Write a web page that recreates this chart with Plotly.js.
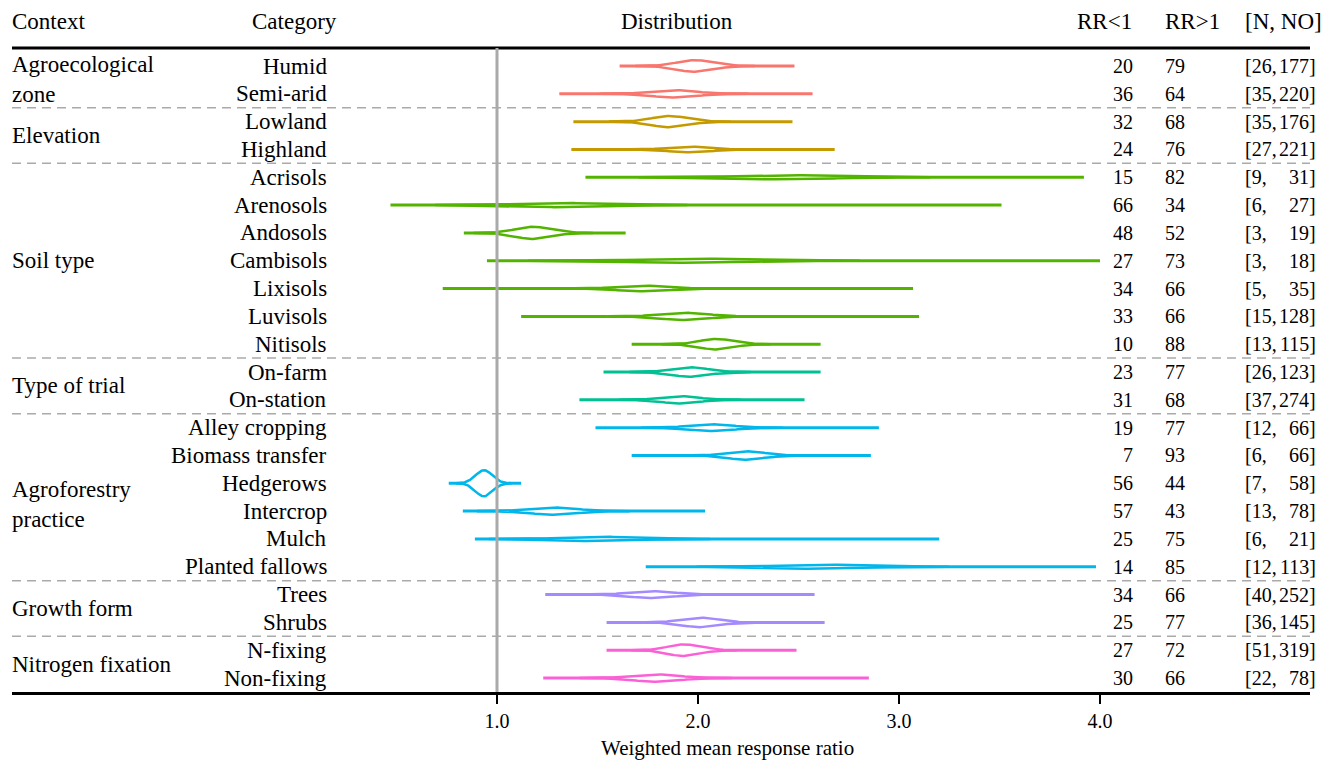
<!DOCTYPE html>
<html><head><meta charset="utf-8">
<script src="https://cdn.plot.ly/plotly-3.0.1.min.js"></script>
<style>html,body{margin:0;padding:0;background:#fff}#chart{width:1338px;height:766px}</style>
</head><body><div id="chart"></div>
<script>
// ---------------- data ----------------
const categories = ["Humid","Semi-arid","Lowland","Highland","Acrisols","Arenosols","Andosols","Cambisols","Lixisols","Luvisols","Nitisols","On-farm","On-station","Alley cropping","Biomass transfer","Hedgerows","Intercrop","Mulch","Planted fallows","Trees","Shrubs","N-fixing","Non-fixing"];
const contexts = ["Agroecological<br>zone","Elevation","Soil type","Type of trial","Agroforestry<br>practice","Growth form","Nitrogen fixation"];
const contextSizes = [2,2,7,2,6,2,2];
const contextColors = ["#F8766D","#C49A00","#53B400","#00C094","#00B6EB","#A58AFF","#FB61D7"];
const rangeLow  = [1.61,1.31,1.38,1.37,1.44,0.47,0.835,0.95,0.73,1.12,1.67,1.53,1.41,1.49,1.67,0.76,0.83,0.89,1.74,1.24,1.545,1.545,1.23];
const rangeHigh = [2.48,2.57,2.47,2.68,3.92,3.51,1.64,4.00,3.07,3.10,2.61,2.61,2.53,2.90,2.86,1.12,2.035,3.20,3.98,2.58,2.63,2.49,2.85];
const meanRR    = [1.985,1.88,1.86,1.96,2.43,1.32,1.18,1.98,1.73,1.93,2.09,1.96,1.91,2.07,2.24,0.935,1.28,1.51,2.62,1.77,2.01,1.93,1.79];
const spreadRR  = [0.09,0.112,0.092,0.107,0.22,0.19,0.09,0.25,0.125,0.115,0.082,0.092,0.092,0.107,0.095,0.042,0.115,0.167,0.19,0.112,0.092,0.08,0.115];
const densityPeak = [0.21,0.13,0.2,0.1,0.075,0.075,0.22,0.075,0.1,0.13,0.19,0.17,0.13,0.12,0.15,0.47,0.13,0.08,0.08,0.12,0.17,0.21,0.13];
const rrBelow = [20,36,32,24,15,66,48,27,34,33,10,23,31,19,7,56,57,25,14,34,25,27,30];
const rrAbove = [79,64,68,76,82,34,52,73,66,66,88,77,68,77,93,44,43,75,85,66,77,72,66];
const nStudies = [26,35,35,27,9,6,3,3,5,15,13,26,37,12,6,7,13,6,12,40,36,51,22];
const nObs = [177,220,176,221,31,27,19,18,35,128,115,123,274,66,66,58,78,21,113,252,145,319,78];
const xTicks = [1,2,3,4];
const headers = ["Context","Category","Distribution","RR&lt;1","RR&gt;1","[N, NO]"];
const axisTitle = "Weighted mean response ratio";

// ---------------- layout geometry ----------------
const W = 1338, H = 766;
const PL = 12, PR = 1310, PT = 48, PB = 692;
const X1PX = 497, XUNIT = 201;          // pixel of 1.0, pixels per unit
const ROW0 = 66, ROWPX = 27.82;
const xRange = [1 - (X1PX - PL) / XUNIT, 4 + (PR - (X1PX + 3 * XUNIT)) / XUNIT];
const yRange = [(PB - ROW0) / ROWPX, (PT - ROW0) / ROWPX];
const pxX = px => (px - PL) / (PR - PL);
const pxY = py => (PB - py) / (PB - PT);
const FONT = "Liberation Serif, Times New Roman, serif";

// color per row from context groups
const rowColor = [];
const groupStart = [];
let r = 0;
contextSizes.forEach((n, g) => { groupStart.push(r); for (let i = 0; i < n; i++) rowColor.push(contextColors[g]); r += n; });

const traces = [];
categories.forEach((c, i) => {
  const col = rowColor[i];
  traces.push({type:'scatter', mode:'lines', x:[rangeLow[i], rangeHigh[i]], y:[i, i],
    line:{color:col, width:3}, hoverinfo:'skip', showlegend:false});
  // lens (density) outline
  const mu = meanRR[i], s = spreadRR[i], pk = densityPeak[i];
  const a = Math.max(rangeLow[i], mu - 3.3 * s), b = Math.min(rangeHigh[i], mu + 3.3 * s);
  const N = 100, xs = [], ys = [];
  for (let k = 0; k <= N; k++) { const x = a + (b - a) * k / N; xs.push(x); ys.push(i - pk * Math.exp(-0.5 * ((x - mu) / s) ** 2)); }
  for (let k = N; k >= 0; k--) { const x = a + (b - a) * k / N; xs.push(x); ys.push(i + pk * Math.exp(-0.5 * ((x - mu) / s) ** 2)); }
  traces.push({type:'scatter', mode:'lines', x:xs, y:ys, fill:'toself', fillcolor:'#ffffff',
    line:{color:col, width:2.5, shape:'linear'}, hoverinfo:'skip', showlegend:false});
});

const ann = [];
const txt = (text, x, y, anchor, size, extra) => Object.assign({text, xref:'paper', x, yref:'y', y,
  xanchor:anchor, yanchor:'middle', showarrow:false, font:{family:FONT, size, color:'#000'}}, extra || {});

// headers
const hy = pxY(22);
const hdrPos = [[10,'left'],[294,'center'],[677,'center'],[1134,'right'],[1163,'left'],[1243,'left']];
headers.forEach((h, k) => ann.push(Object.assign(txt(h, pxX(hdrPos[k][0]), hy, hdrPos[k][1], 23), {yref:'paper'})));

// context labels
contexts.forEach((c, g) => {
  const mid = groupStart[g] + (contextSizes[g] - 1) / 2;
  ann.push(txt(c, pxX(10), mid, 'left', 23, {align:'left', yshift: g === 4 ? -7 : 0}));
});
// categories and counts
categories.forEach((c, i) => {
  ann.push(txt(c, pxX(329), i, 'right', 23));
  ann.push(txt(String(rrBelow[i]), pxX(1135), i, 'right', 20));
  ann.push(txt(String(rrAbove[i]), pxX(1163), i, 'left', 20));
  ann.push(txt('[' + nStudies[i] + ',', pxX(1243), i, 'left', 20));
  ann.push(txt(nObs[i] + ']', pxX(1318), i, 'right', 20));
});
// axis title (centred under the value columns as in the original)
ann.push(Object.assign(txt(axisTitle, pxX(727), pxY(748), 'center', 21), {yref:'paper'}));

const shapes = [];
// separators between context groups
groupStart.slice(1).forEach(s => shapes.push({type:'line', xref:'paper', x0:0, x1:1, yref:'y', y0:s - 0.5, y1:s - 0.5,
  line:{color:'#aaaaaa', width:1.5, dash:'9px,6px'}, layer:'below'}));
// top rule
shapes.push({type:'line', xref:'paper', x0:0, x1:1, yref:'paper', y0:1, y1:1, line:{color:'#000', width:3}});
// reference line at RR = 1
shapes.push({type:'line', xref:'x', x0:1, x1:1, yref:'paper', y0:0, y1:1, line:{color:'#aaaaaa', width:3}, layer:'above'});

const layout = {
  width:W, height:H, margin:{l:PL, r:W - PR, t:PT, b:H - PB},
  paper_bgcolor:'#fff', plot_bgcolor:'#fff', showlegend:false,
  xaxis:{range:xRange, tickvals:xTicks, ticktext:xTicks.map(v => v.toFixed(1)), ticks:'outside', ticklen:9, tickwidth:2,
    tickcolor:'#000', showline:true, linewidth:3, linecolor:'#000', showgrid:false, zeroline:false, fixedrange:true,
    tickfont:{family:FONT, size:20, color:'#000'}},
  yaxis:{range:yRange, visible:false, fixedrange:true},
  annotations:ann, shapes:shapes
};
Plotly.newPlot('chart', traces, layout, {displayModeBar:false, staticPlot:true});
</script></body></html>
